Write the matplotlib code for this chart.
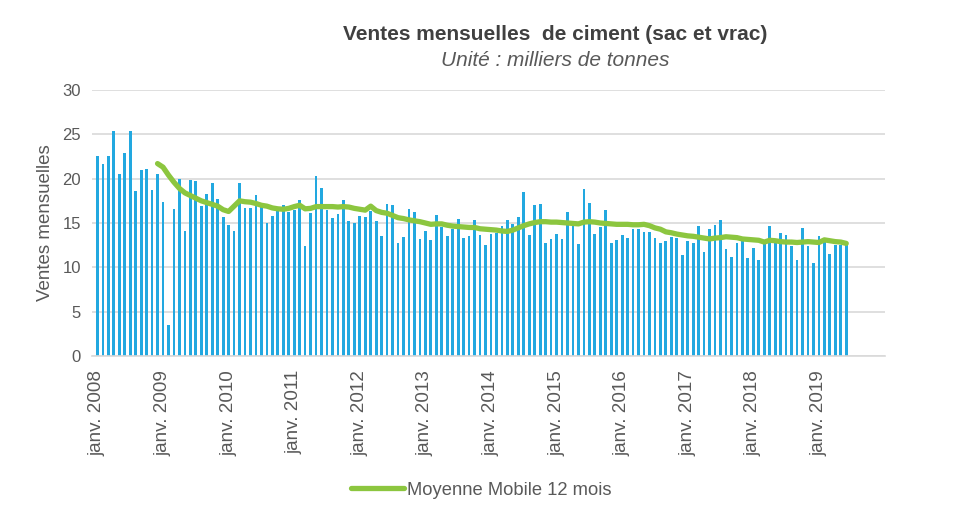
import matplotlib.pyplot as plt
import numpy as np

plt.rcParams['font.family'] = ['Liberation Sans', 'DejaVu Sans']

# ventes mensuelles, janv. 2008 -> juin 2019 (milliers de tonnes)
ventes = [22.6, 21.7, 22.6, 25.4, 20.5, 22.9, 25.4, 18.6, 21.0, 21.1, 18.7, 20.5,
          17.4, 3.5, 16.6, 20.0, 14.1, 19.9, 19.7, 16.9, 18.3, 19.5, 17.7, 15.7,
          14.8, 14.1, 19.5, 16.7, 16.7, 18.2, 17.0, 15.0, 15.8, 16.3, 17.0, 16.2,
          16.5, 17.6, 12.4, 16.1, 20.3, 18.9, 16.5, 15.6, 16.0, 17.6, 15.2, 15.0,
          15.8, 15.7, 16.3, 15.2, 13.5, 17.1, 17.0, 12.7, 13.4, 16.6, 16.2, 13.2,
          14.1, 13.1, 15.9, 14.6, 13.5, 14.3, 15.4, 13.3, 13.5, 15.3, 13.7, 12.5,
          13.8, 13.9, 14.7, 15.3, 14.9, 15.7, 18.5, 13.6, 17.0, 17.1, 12.8, 13.2,
          13.8, 13.2, 16.2, 14.8, 12.6, 18.8, 17.3, 13.8, 14.6, 16.5, 12.8, 13.1,
          13.6, 13.3, 14.3, 14.3, 14.0, 14.0, 13.3, 12.7, 13.0, 13.4, 13.3, 11.4,
          13.0, 12.7, 14.7, 11.7, 14.3, 14.8, 15.3, 12.1, 11.2, 12.7, 13.0, 11.0,
          12.2, 10.8, 13.1, 14.7, 12.8, 13.9, 13.6, 12.4, 10.8, 14.4, 12.4, 10.5,
          13.5, 12.9, 11.5, 12.5, 12.5, 12.5]

# moyenne mobile 12 mois, from dec. 2008
ma_start = 11
moyenne = [21.7, 21.3, 20.4, 19.6, 18.9, 18.4, 18.1, 17.8, 17.5, 17.3, 17.1, 16.9,
           16.5, 16.3, 16.9, 17.5, 17.4, 17.35, 17.2, 17.0, 16.9, 16.7, 16.6, 16.55,
           16.65, 16.85, 17.0, 16.6, 16.65, 16.85, 16.85, 16.85, 16.85, 16.8, 16.85, 16.8,
           16.65, 16.55, 16.45, 16.9, 16.4, 16.2, 16.1, 15.85, 15.6, 15.5, 15.35, 15.25,
           15.15, 15.0, 14.85, 14.9, 14.9, 14.75, 14.65, 14.6, 14.55, 14.5, 14.5, 14.35,
           14.3, 14.25, 14.2, 14.1, 14.05, 14.2, 14.45, 14.7, 14.9, 15.05, 15.15, 15.15,
           15.1, 15.1, 15.05, 15.0, 14.95, 14.9, 15.1, 15.15, 15.1, 15.0, 14.95, 14.9,
           14.85, 14.85, 14.85, 14.8, 14.8, 14.85, 14.7, 14.45, 14.3, 14.0, 13.9, 13.75,
           13.65, 13.55, 13.5, 13.4, 13.3, 13.2, 13.3, 13.35, 13.45, 13.4, 13.35, 13.2,
           13.15, 13.1, 13.05, 12.85, 13.05, 13.0, 12.9, 12.85, 12.85, 12.8, 12.85, 12.9,
           12.85, 12.8, 13.1, 13.0, 12.9, 12.85, 12.7]

annees = list(range(2008, 2020))
tick_labels = ['janv. ' + str(a) for a in annees]

grey = '#595959'

fig = plt.figure(figsize=(9.62, 5.07), dpi=100)
ax = fig.add_axes([0.0956, 0.2978, 0.8244, 0.5247])

x = np.arange(len(ventes))
ax.bar(x, ventes, width=0.5, color='#22a8e0', zorder=2)

xm = np.arange(ma_start, ma_start + len(moyenne))
ax.plot(xm, moyenne, color='#8cc63f', linewidth=3.8, solid_capstyle='round',
        zorder=3, label='Moyenne Mobile 12 mois')

ax.set_xlim(-1.0, 144.1)
ax.set_ylim(0, 30)
ax.set_yticks(range(0, 31, 5))
ax.set_xticks(np.arange(0, len(ventes), 12))
ax.set_xticklabels(tick_labels, rotation=90)
ax.tick_params(axis='x', length=0, pad=10, labelsize=13.6, labelcolor=grey)
ax.tick_params(axis='y', length=0, pad=8, labelsize=12, labelcolor=grey)
ax.grid(axis='y', color='#d9d9d9', linewidth=1.2, zorder=0)
for s in ['top', 'right', 'left']:
    ax.spines[s].set_visible(False)
ax.spines['bottom'].set_color('#d9d9d9')
ax.spines['bottom'].set_linewidth(1.2)

ax.set_ylabel('Ventes mensuelles', fontsize=13.5, color=grey, labelpad=6)

fig.text(0.577, 0.932, 'Ventes mensuelles  de ciment (sac et vrac)', ha='center', va='center',
         fontsize=15, fontweight='bold', color='#404040')
fig.text(0.577, 0.881, 'Unité : milliers de tonnes', ha='center', va='center',
         fontsize=15, fontstyle='italic', color=grey)

fig.legend(loc='lower center', bbox_to_anchor=(0.50, -0.016), frameon=False,
           fontsize=13.2, labelcolor=grey, handlelength=2.9, handletextpad=0.15)

plt.savefig('out.png', dpi=100)
plt.close()
